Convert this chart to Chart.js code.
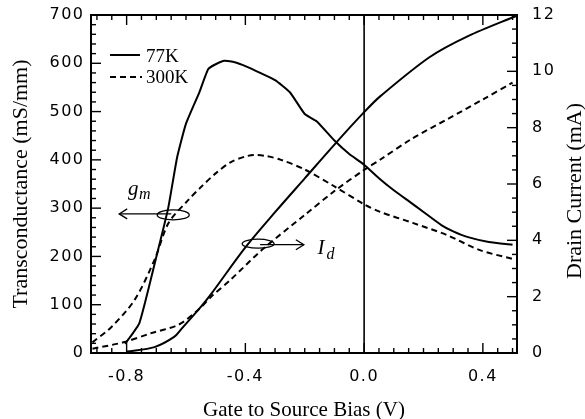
<!DOCTYPE html>
<html><head><meta charset="utf-8">
<script src="https://cdn.jsdelivr.net/npm/chart.js@4.4.1/dist/chart.umd.min.js"></script>
<style>html,body{margin:0;padding:0;background:#fff;}#wrap{width:585px;height:419px;}</style>
</head><body><div id="wrap"><canvas id="c" width="585" height="419"></canvas></div>
<script>
// ---- data ----
const gm77Bias   = [-0.805,-0.757,-0.70,-0.66,-0.63,-0.60,-0.555,-0.525,-0.50,-0.47,-0.43,-0.40,-0.35,-0.30,-0.25,-0.20,-0.16,-0.10,-0.05,0.0,0.05,0.10,0.156,0.20,0.26,0.30,0.35,0.42,0.50];
const gm77Values = [19,62,199,300,405,475,540,588,598,605,601,594,580,565,540,495,480,440,412,390,362,337,312,292,265,252,240,230,224];
const gm300Bias   = [-0.915,-0.851,-0.773,-0.706,-0.659,-0.592,-0.549,-0.50,-0.45,-0.40,-0.37,-0.33,-0.28,-0.20,-0.10,0.0,0.055,0.166,0.28,0.39,0.50];
const gm300Values = [22,54,110,193,269,317,344,372,395,407,410,408,400,380,345,308,292,269,244,213,195];
const id77Bias   = [-0.80,-0.706,-0.64,-0.616,-0.55,-0.515,-0.40,-0.30,-0.20,-0.10,0.0,0.055,0.22,0.35,0.515];
const id77Values = [0.05,0.21,0.57,0.85,1.64,2.1,3.75,5.0,6.2,7.4,8.55,9.12,10.5,11.25,11.98];
const id300Bias   = [-0.915,-0.807,-0.716,-0.626,-0.559,-0.515,-0.45,-0.34,-0.20,-0.10,0.0,0.055,0.16,0.28,0.40,0.50];
const id300Values = [0.15,0.39,0.71,1.0,1.53,2.0,2.6,3.7,4.9,5.75,6.5,6.87,7.6,8.3,9.0,9.6];

const xTickValues = [-0.8,-0.4,0.0,0.4];
const xTickLabels = ['-0.8','-0.4','0.0','0.4'];
const gmTickValues = [0,100,200,300,400,500,600,700];
const idTickValues = [0,2,4,6,8,10,12];
const legendLabels = ['77K','300K'];

const pts = (xs, ys) => xs.map((x, i) => ({x: x, y: ys[i]}));

const sans = 'DejaVu Sans, Verdana, sans-serif';
const serif = 'Liberation Serif, Times New Roman, serif';

const decor = {
  id: 'decor',
  beforeDraw(chart) { chart.ctx.letterSpacing = '1.5px'; },
  afterDraw(chart) {
    const ctx = chart.ctx;
    ctx.letterSpacing = '0px';
    const a = chart.chartArea;
    const xs = chart.scales.x, yl = chart.scales.y, yr = chart.scales.y2;
    ctx.save();
    ctx.strokeStyle = '#000'; ctx.fillStyle = '#000';
    // frame
    ctx.lineWidth = 2;
    ctx.strokeRect(a.left, a.top, a.right - a.left, a.bottom - a.top);
    // zero bias line
    ctx.lineWidth = 1.6;
    const x0 = xs.getPixelForValue(0);
    ctx.beginPath(); ctx.moveTo(x0, a.bottom); ctx.lineTo(x0, a.top); ctx.stroke();
    // inward ticks
    ctx.lineWidth = 1.4;
    const isMajor = (v, majors) => majors.some(m => Math.abs(m - v) < 1e-6);
    for (let k = -18; k <= 10; k++) {
      const v = k * 0.05;
      if (v < xs.min - 1e-9 || v > xs.max + 1e-9) continue;
      const p = xs.getPixelForValue(v);
      const L = isMajor(v, xTickValues) ? 10 : 5;
      ctx.beginPath(); ctx.moveTo(p, a.bottom); ctx.lineTo(p, a.bottom - L); ctx.stroke();
      ctx.beginPath(); ctx.moveTo(p, a.top); ctx.lineTo(p, a.top + L); ctx.stroke();
    }
    for (let v = 0; v <= 700; v += 20) {
      const p = yl.getPixelForValue(v);
      const L = isMajor(v, gmTickValues) ? 10 : 5;
      ctx.beginPath(); ctx.moveTo(a.left, p); ctx.lineTo(a.left + L, p); ctx.stroke();
    }
    for (let k = 0; k <= 24; k++) {
      const v = k * 0.5;
      const p = yr.getPixelForValue(v);
      const L = isMajor(v, idTickValues) ? 10 : 5;
      ctx.beginPath(); ctx.moveTo(a.right, p); ctx.lineTo(a.right - L, p); ctx.stroke();
    }
    // legend
    ctx.lineWidth = 2;
    ctx.beginPath(); ctx.moveTo(a.left + 19, 55); ctx.lineTo(a.left + 49, 55); ctx.stroke();
    ctx.setLineDash([6, 4]);
    ctx.beginPath(); ctx.moveTo(a.left + 19, 77); ctx.lineTo(a.left + 51, 77); ctx.stroke();
    ctx.setLineDash([]);
    ctx.font = '19px ' + serif; ctx.textBaseline = 'alphabetic'; ctx.textAlign = 'left';
    ctx.fillText(legendLabels[0], a.left + 55, 62);
    ctx.fillText(legendLabels[1], a.left + 55, 83);
    // gm annotation
    ctx.lineWidth = 1.3;
    const gx = xs.getPixelForValue(-0.643), gy = yl.getPixelForValue(286);
    ctx.beginPath(); ctx.ellipse(gx, gy, 16, 5, 0, 0, Math.PI * 2); ctx.stroke();
    const gt = xs.getPixelForValue(-0.825);
    ctx.beginPath(); ctx.moveTo(gx - 2, gy - 1); ctx.lineTo(gt, gy - 1); ctx.stroke();
    ctx.beginPath(); ctx.moveTo(gt + 8, gy - 6); ctx.lineTo(gt, gy - 1); ctx.lineTo(gt + 8, gy + 4); ctx.stroke();
    ctx.font = 'italic 21px ' + serif;
    const glx = xs.getPixelForValue(-0.795), gly = yl.getPixelForValue(327);
    ctx.fillText('g', glx, gly);
    ctx.font = 'italic 16px ' + serif;
    ctx.fillText('m', glx + 11, gly + 4);
    // Id annotation
    const ix = xs.getPixelForValue(-0.357), iy = yr.getPixelForValue(3.88);
    ctx.beginPath(); ctx.ellipse(ix, iy, 16, 4.5, 0, 0, Math.PI * 2); ctx.stroke();
    const it = xs.getPixelForValue(-0.203);
    ctx.beginPath(); ctx.moveTo(ix + 2, iy + 1); ctx.lineTo(it, iy + 1); ctx.stroke();
    ctx.beginPath(); ctx.moveTo(it - 8, iy - 4); ctx.lineTo(it, iy + 1); ctx.lineTo(it - 8, iy + 6); ctx.stroke();
    ctx.font = 'italic 21px ' + serif;
    const ilx = xs.getPixelForValue(-0.157), ily = yr.getPixelForValue(3.5);
    ctx.fillText('I', ilx, ily);
    ctx.font = 'italic 16px ' + serif;
    ctx.fillText('d', ilx + 9, ily + 5);
    // axis titles
    ctx.font = '21px ' + serif; ctx.textAlign = 'center';
    ctx.fillText('Gate to Source Bias (V)', (a.left + a.right) / 2, 416);
    ctx.font = '22px ' + serif;
    ctx.save(); ctx.translate(27, 184); ctx.rotate(-Math.PI / 2);
    ctx.fillText('Transconductance (mS/mm)', 0, 0); ctx.restore();
    ctx.save(); ctx.translate(581, 191); ctx.rotate(-Math.PI / 2);
    ctx.fillText('Drain Current (mA)', 0, 0); ctx.restore();
    ctx.restore();
  }
};

const lineStyle = (dash, t) => ({borderColor: '#000', borderWidth: 2, borderDash: dash, pointRadius: 0, showLine: true, fill: false, tension: t});
const noPad = s => { s.paddingTop = 0; s.paddingBottom = 0; s.paddingLeft = 0; s.paddingRight = 0; };

new Chart(document.getElementById('c'), {
  type: 'scatter',
  data: {
    datasets: [
      Object.assign({label: legendLabels[0] + ' gm', data: pts(gm77Bias, gm77Values), yAxisID: 'y'}, lineStyle([], 0.15)),
      Object.assign({label: legendLabels[1] + ' gm', data: pts(gm300Bias, gm300Values), yAxisID: 'y'}, lineStyle([6, 4], 0.3)),
      Object.assign({label: legendLabels[0] + ' Id', data: pts(id77Bias, id77Values), yAxisID: 'y2'}, lineStyle([], 0.3)),
      Object.assign({label: legendLabels[1] + ' Id', data: pts(id300Bias, id300Values), yAxisID: 'y2'}, lineStyle([6, 4], 0.3))
    ]
  },
  options: {
    responsive: false, animation: false, devicePixelRatio: 1,
    layout: {padding: {top: 15, left: 0, right: 0, bottom: 0}},
    plugins: {legend: {display: false}, tooltip: {enabled: false}},
    scales: {
      x: {
        type: 'linear', position: 'bottom', min: -0.92, max: 0.515,
        afterBuildTicks: s => { s.ticks = xTickValues.map(v => ({value: v})); },
        afterFit: s => { s.height = 66; noPad(s); },
        ticks: {callback: v => { const i = xTickValues.findIndex(t => Math.abs(t - v) < 1e-6); return i >= 0 ? xTickLabels[i] : ''; },
                font: {family: sans, size: 16}, color: '#000', padding: 14, maxRotation: 0, autoSkip: false},
        grid: {display: false, drawTicks: false}, border: {display: false}
      },
      y: {
        type: 'linear', position: 'left', min: 0, max: 700,
        afterBuildTicks: s => { s.ticks = gmTickValues.map(v => ({value: v})); },
        afterFit: s => { s.width = 91; noPad(s); },
        ticks: {font: {family: sans, size: 16}, color: '#000', padding: 6.5},
        grid: {display: false, drawTicks: false}, border: {display: false}
      },
      y2: {
        type: 'linear', position: 'right', min: 0, max: 12,
        afterBuildTicks: s => { s.ticks = idTickValues.map(v => ({value: v})); },
        afterFit: s => { s.width = 68; noPad(s); },
        ticks: {font: {family: sans, size: 16}, color: '#000', padding: 15},
        grid: {display: false, drawTicks: false}, border: {display: false}
      }
    }
  },
  plugins: [decor]
});
</script></body></html>
